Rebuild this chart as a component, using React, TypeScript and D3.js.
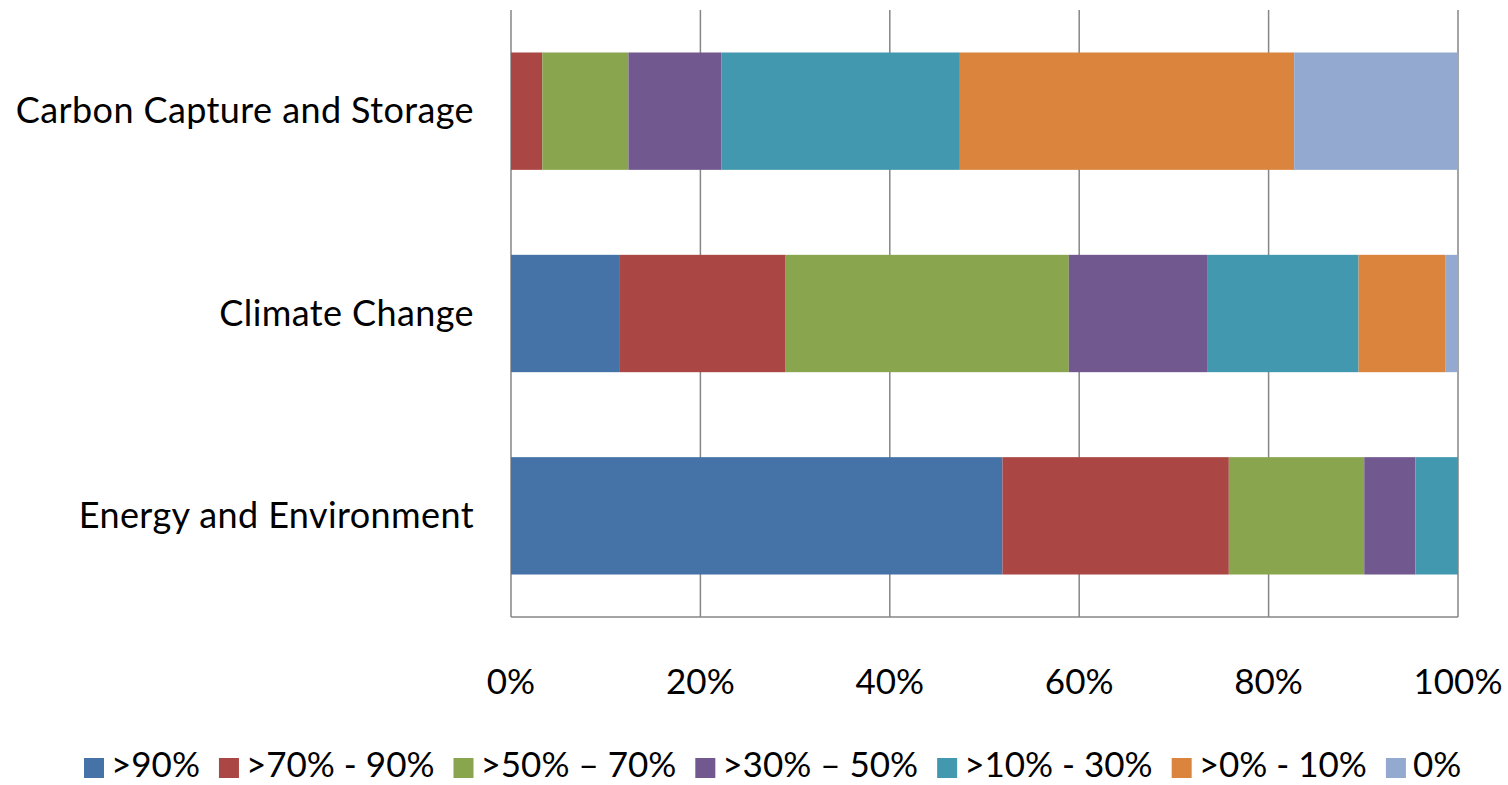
import React, { useEffect, useRef } from "react";
import * as d3 from "d3";

const WIDTH = 1508;
const HEIGHT = 785;

const categories = ["Carbon Capture and Storage", "Climate Change", "Energy and Environment"];
const seriesNames = [">90%", ">70% - 90%", ">50% \u2013 70%", ">30% \u2013 50%", ">10% - 30%", ">0% - 10%", "0%"];
const seriesColors = ["#4572A7", "#AA4643", "#89A54E", "#71588F", "#4198AF", "#DB843D", "#93A9CF"];

// share of responses (%) per category, one array per series
const above90 = [0, 11.5, 51.9];
const from70to90 = [3.3, 17.5, 23.9];
const from50to70 = [9.1, 29.9, 14.3];
const from30to50 = [9.8, 14.6, 5.4];
const from10to30 = [25.2, 16.0, 4.5];
const from0to10 = [35.3, 9.2, 0];
const zero = [17.3, 1.3, 0];

const seriesValues = [above90, from70to90, from50to70, from30to50, from10to30, from0to10, zero];
const xTicks = [0, 20, 40, 60, 80, 100];

const FONT = "Lato, 'Open Sans', sans-serif";
const FONT_SIZE = 35;

export default function App() {
  const ref = useRef<SVGSVGElement | null>(null);

  useEffect(() => {
    const svg = d3.select(ref.current);
    svg.selectAll("*").remove();

    const plot = { left: 511, right: 1458, top: 10, bottom: 617 };

    const x = d3.scaleLinear().domain([0, 100]).range([plot.left, plot.right]);
    const y = d3
      .scaleBand<string>()
      .domain(categories)
      .range([plot.top, plot.bottom])
      .paddingInner(0.42)
      .paddingOuter(0.21);

    const rows = categories.map((c, i) => {
      const r: any = { category: c };
      seriesNames.forEach((s, j) => (r[s] = seriesValues[j][i]));
      return r;
    });
    const stacked = d3.stack<any>().keys(seriesNames)(rows);

    // vertical gridlines
    svg
      .append("g")
      .selectAll("line")
      .data(xTicks)
      .join("line")
      .attr("x1", (d) => x(d))
      .attr("x2", (d) => x(d))
      .attr("y1", plot.top)
      .attr("y2", plot.bottom)
      .attr("stroke", "#868686")
      .attr("stroke-width", 1.5);

    // bottom axis line
    svg
      .append("line")
      .attr("x1", plot.left)
      .attr("x2", plot.right)
      .attr("y1", plot.bottom)
      .attr("y2", plot.bottom)
      .attr("stroke", "#868686")
      .attr("stroke-width", 1.5);

    // stacked bars
    svg
      .append("g")
      .selectAll("g")
      .data(stacked)
      .join("g")
      .attr("fill", (_, i) => seriesColors[i])
      .selectAll("rect")
      .data((d) => d)
      .join("rect")
      .attr("x", (d) => x(d[0]))
      .attr("width", (d) => Math.max(0, x(d[1]) - x(d[0])))
      .attr("y", (d) => y(d.data.category)!)
      .attr("height", y.bandwidth());

    // category labels
    svg
      .append("g")
      .selectAll("text")
      .data(categories)
      .join("text")
      .attr("x", 474)
      .attr("y", (d) => y(d)! + y.bandwidth() / 2 + 12)
      .attr("text-anchor", "end")
      .attr("font-family", FONT)
      .attr("font-size", 36)
      .attr("letter-spacing", 0.4)
      .attr("fill", "#000")
      .text((d) => d);

    // x tick labels
    svg
      .append("g")
      .selectAll("text")
      .data(xTicks)
      .join("text")
      .attr("x", (d) => x(d))
      .attr("y", 694)
      .attr("text-anchor", "middle")
      .attr("font-family", FONT)
      .attr("font-size", FONT_SIZE)
      .attr("fill", "#000")
      .text((d) => `${d}%`);

    // legend
    const legend = svg.append("g");
    const swatch = 20;
    const gapText = 7;
    const gapItem = 19;
    let cx = 84;
    seriesNames.forEach((name, i) => {
      legend
        .append("rect")
        .attr("x", cx)
        .attr("y", 758)
        .attr("width", swatch)
        .attr("height", swatch)
        .attr("fill", seriesColors[i]);
      const t = legend
        .append("text")
        .attr("x", cx + swatch + gapText)
        .attr("y", 777)
        .attr("font-family", FONT)
        .attr("font-size", FONT_SIZE)
        .attr("fill", "#000")
        .text(name);
      const w = (t.node() as SVGTextElement).getComputedTextLength();
      cx += swatch + gapText + w + gapItem;
    });
  }, []);

  return (
    <svg
      ref={ref}
      width={WIDTH}
      height={HEIGHT}
      style={{ position: "absolute", left: 0, top: 0, background: "#fff" }}
    />
  );
}
